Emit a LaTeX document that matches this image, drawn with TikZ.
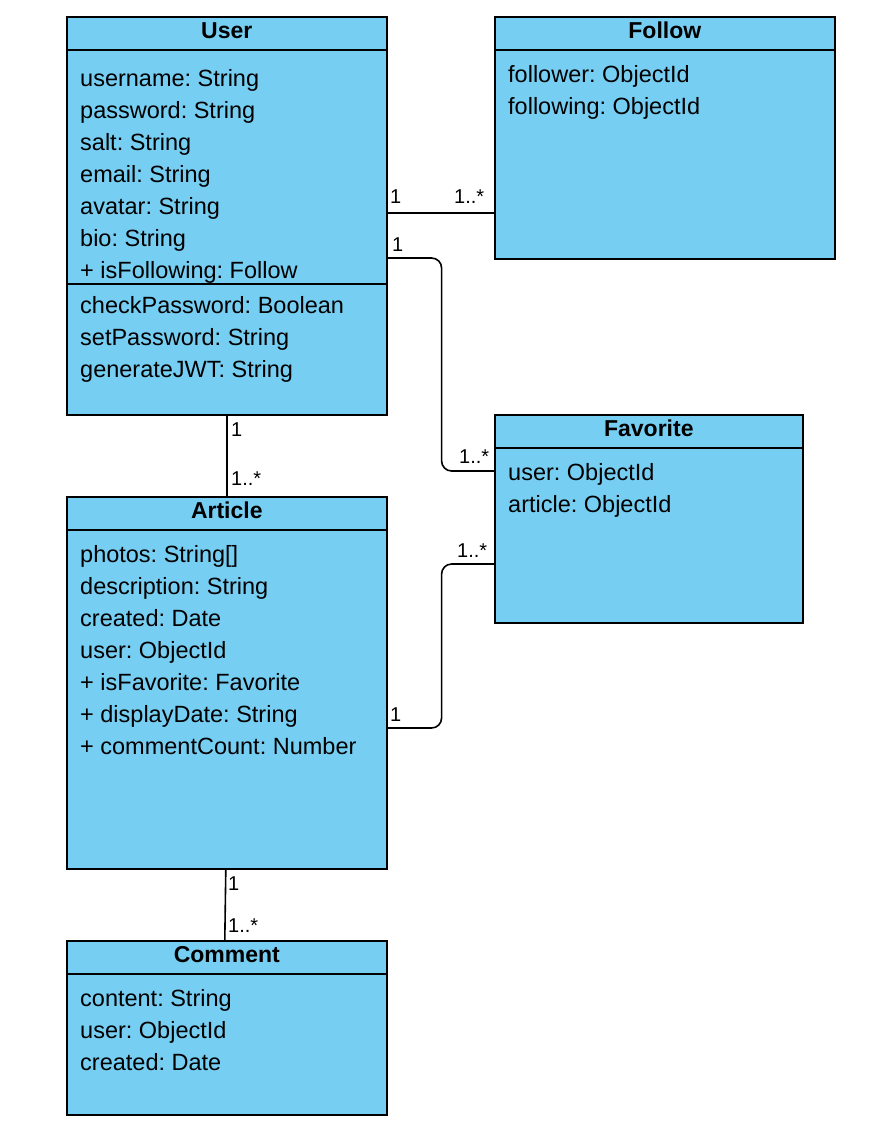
\documentclass[tikz,border=0pt]{standalone}
\usepackage{fontspec}
\setmainfont{Liberation Sans}
\usetikzlibrary{positioning}
\frenchspacing

\definecolor{classblue}{HTML}{76CEF3}

\tikzset{
  classbox/.style={draw, fill=classblue, line width=1.6pt, anchor=north west, inner sep=0pt},
  classname/.style={font=\fontsize{23}{27}\selectfont\bfseries, anchor=base, inner sep=0pt},
  member/.style={font=\fontsize{23.5}{27}\selectfont, anchor=base west, inner sep=0pt},
  mult/.style={font=\fontsize{20}{24}\selectfont, anchor=base west, inner sep=0pt},
  divider/.style={line width=1.6pt},
  assoc/.style={line width=1.6pt, rounded corners=10pt}
}

\begin{document}
\begin{tikzpicture}[x=1pt, y=-1pt]

  \useasboundingbox (0,0) rectangle (890,1128);

  % Class boxes
  \node[classbox, minimum width=320pt, minimum height=398pt] (user) at (66,16) {};
  \node[classbox, minimum width=340pt, minimum height=242pt] (follow) at (494,16) {};
  \node[classbox, minimum width=308pt, minimum height=208pt] (favorite) at (494,414) {};
  \node[classbox, minimum width=320pt, minimum height=372pt] (article) at (66,496) {};
  \node[classbox, minimum width=320pt, minimum height=174pt] (comment) at (66,940) {};

  % Class names and header lines
  \foreach \cls/\title in {user/User, follow/Follow, favorite/Favorite, article/Article, comment/Comment} {
    \node[classname] (\cls-title) at ([yshift=-22pt]\cls.north) {\title};
    \draw[divider] ([yshift=-34pt]\cls.north west) -- ([yshift=-34pt]\cls.north east);
  }

  % User attributes and methods
  \foreach \txt [count=\i] in {username: String, password: String, salt: String, email: String,
      avatar: String, bio: String, + isFollowing: Follow}
    \node[member] (user-a\i) at ([xshift=14pt, yshift={-70pt-32pt*(\i-1)}]user.north west) {\txt};
  \draw[divider] ([yshift=-268pt]user.north west) -- ([yshift=-268pt]user.north east);
  \foreach \txt [count=\i] in {checkPassword: Boolean, setPassword: String, generateJWT: String}
    \node[member] (user-m\i) at ([xshift=14pt, yshift={-297pt-32pt*(\i-1)}]user.north west) {\txt};

  % Follow attributes
  \foreach \txt [count=\i] in {follower: ObjectId, following: ObjectId}
    \node[member] (follow-a\i) at ([xshift=14pt, yshift={-66pt-32pt*(\i-1)}]follow.north west) {\txt};

  % Favorite attributes
  \foreach \txt [count=\i] in {user: ObjectId, article: ObjectId}
    \node[member] (favorite-a\i) at ([xshift=14pt, yshift={-66pt-32pt*(\i-1)}]favorite.north west) {\txt};

  % Article attributes
  \foreach \txt [count=\i] in {photos: String[], description: String, created: Date, user: ObjectId,
      + isFavorite: Favorite, + displayDate: String, + commentCount: Number}
    \node[member] (article-a\i) at ([xshift=14pt, yshift={-66pt-32pt*(\i-1)}]article.north west) {\txt};

  % Comment attributes
  \foreach \txt [count=\i] in {content: String, user: ObjectId, created: Date}
    \node[member] (comment-a\i) at ([xshift=14pt, yshift={-66pt-32pt*(\i-1)}]comment.north west) {\txt};

  % Associations
  \draw[assoc] ([yshift=-197pt]user.north east) -- ([yshift=-197pt]follow.north west);
  \draw[assoc] ([yshift=-242pt]user.north east) -- ++(54,0) |- ([yshift=-57pt]favorite.north west);
  \draw[assoc] (user.south) -- (article.north);
  \draw[assoc] ([yshift=-232pt]article.north east) -- ++(54,0) |- ([yshift=-150pt]favorite.north west);
  \draw[assoc] ([xshift=-1pt]article.south) -- ([xshift=-2pt]comment.north);

  % Multiplicities
  \node[mult] (m-uf1) at (390,203) {1};
  \node[mult] (m-uf2) at (454,203) {1..*};
  \node[mult] (m-ufa1) at (392,251) {1};
  \node[mult] (m-ufa2) at (459,463) {1..*};
  \node[mult] (m-ua1) at (231,436) {1};
  \node[mult] (m-ua2) at (231,485) {1..*};
  \node[mult] (m-afa1) at (390,721) {1};
  \node[mult] (m-afa2) at (457,557) {1..*};
  \node[mult] (m-ac1) at (228,890) {1};
  \node[mult] (m-ac2) at (228,932) {1..*};

\end{tikzpicture}
\end{document}
